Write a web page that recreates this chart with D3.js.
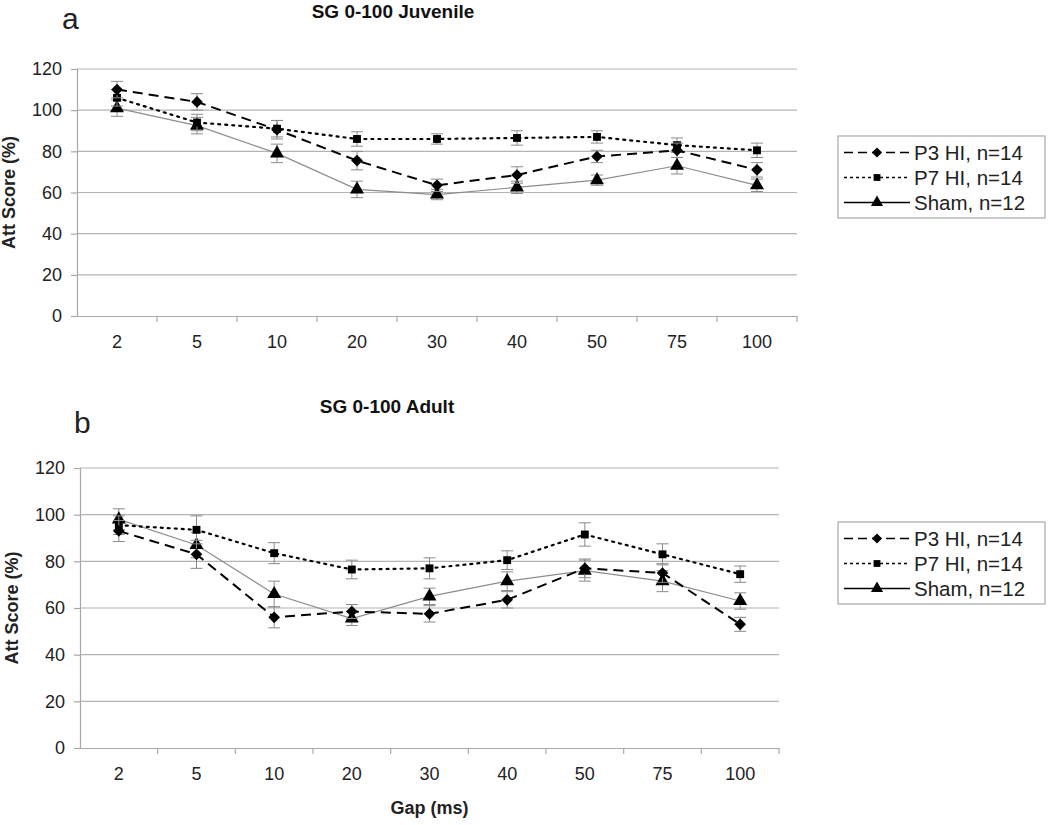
<!DOCTYPE html>
<html><head><meta charset="utf-8">
<script src="https://cdn.jsdelivr.net/npm/d3@7"></script>
<style>body{margin:0;background:#fff}svg{display:block;font-family:"Liberation Sans",Arial,sans-serif}</style>
</head><body><svg id="c" width="1050" height="825"></svg>
<script>
const categories = ["2","5","10","20","30","40","50","75","100"];
const yTicks = [0,20,40,60,80,100,120];
const seriesNames = ["P3 HI, n=14","P7 HI, n=14","Sham, n=12"];

// Panel a: Juvenile
const juvP3 = [110,104,90.5,75.5,63.5,68.5,77.5,80.5,71];
const juvP3Err = [4,4,4.5,4.5,3,4,3,3.5,3.5];
const juvP7 = [106,94,91,86,86,86.5,87,83,80.5];
const juvP7Err = [4,4,4,3.5,2.5,3.5,3,3.5,3.5];
const juvSham = [101,92.5,79,61.5,59,62.5,66,73,63.5];
const juvShamErr = [4,4,4.5,4,2.5,3,2.5,4,3];

// Panel b: Adult
const adP3 = [93,83,56,58.5,57.5,63.5,77,75,53];
const adP3Err = [4.5,6,4.5,3,3.5,3.5,4,4,3];
const adP7 = [95.5,93.5,83.5,76.5,77,80.5,91.5,83,74.5];
const adP7Err = [4,6,4.5,4,4.5,4,5,4.5,3.5];
const adSham = [98,87,66,55.5,65,71.5,76,71.5,63];
const adShamErr = [4.5,5.5,5.5,3,3.5,4,4.5,4.5,3.5];

const svg = d3.select("#c");

const styles = [
  {dash:"10,6", color:"#000", width:2, sym:d3.symbolSquare, rot:45, size:68},
  {dash:"2,5", color:"#000", width:2.2, sym:d3.symbolSquare, rot:0, size:62},
  {dash:null, color:"#8c8c8c", width:1.2, sym:d3.symbolTriangle, rot:0, size:85}
];

function panel(cfg){
  const {left,right,top,bottom,letter,letterX,letterY,title,titleX,titleY,series,legend,xTitle} = cfg;
  const g = svg.append("g");
  const x = d3.scaleBand().domain(categories).range([left,right]);
  const y = d3.scaleLinear().domain([0,120]).range([bottom,top]);

  g.append("g").selectAll("line").data(yTicks.filter(d=>d>0)).join("line")
    .attr("x1",left).attr("x2",right).attr("y1",d=>y(d)).attr("y2",d=>y(d))
    .attr("stroke","#b4b4b4").attr("stroke-width",1.2);

  const ya = g.append("g").attr("transform",`translate(${left},0)`)
    .call(d3.axisLeft(y).tickValues(yTicks).tickSize(6).tickPadding(9));
  ya.select(".domain").attr("stroke","#a8a8a8").attr("stroke-width",1.2);
  ya.selectAll(".tick line").attr("stroke","#a8a8a8").attr("stroke-width",1.2);
  ya.selectAll("text").attr("font-size",18).attr("fill","#222").attr("font-family","Liberation Sans, Arial");

  const xa = g.append("g").attr("transform",`translate(0,${bottom})`)
    .call(d3.axisBottom(x).tickSize(0).tickPadding(19));
  xa.select(".domain").attr("stroke","#a8a8a8").attr("stroke-width",1.2);
  xa.selectAll("text").attr("font-size",18).attr("fill","#222").attr("font-family","Liberation Sans, Arial");
  const bounds = categories.map(c=>x(c)).concat([x(categories[categories.length-1])+x.bandwidth()]);
  g.append("g").selectAll("line").data(bounds.slice(1)).join("line")
    .attr("x1",d=>d).attr("x2",d=>d).attr("y1",bottom).attr("y2",bottom+6)
    .attr("stroke","#a8a8a8").attr("stroke-width",1.2);

  g.append("text").attr("transform",`translate(${left-62},${(top+bottom)/2}) rotate(-90)`)
    .attr("text-anchor","middle").attr("font-weight","bold").attr("font-size",18).attr("fill","#222")
    .text("Att Score (%)");

  g.append("text").attr("x",letterX).attr("y",letterY).attr("font-size",30).attr("fill","#222").text(letter);
  g.append("text").attr("x",titleX).attr("y",titleY).attr("text-anchor","middle")
    .attr("font-weight","bold").attr("font-size",19).attr("fill","#111").text(title);

  if(xTitle){
    g.append("text").attr("x",(left+right)/2).attr("y",bottom+66).attr("text-anchor","middle")
      .attr("font-weight","bold").attr("font-size",18).attr("fill","#222").text(xTitle);
  }

  const cx = c => x(c)+x.bandwidth()/2;
  [2,1,0].forEach(si=>{
    const s = series[si], st = styles[si];
    const data = categories.map((c,i)=>({c,v:s.v[i],e:s.e[i]}));
    const eb = g.append("g").attr("stroke","#8a8a8a").attr("stroke-width",1);
    eb.selectAll("line.v").data(data).join("line").attr("class","v")
      .attr("x1",d=>cx(d.c)).attr("x2",d=>cx(d.c)).attr("y1",d=>y(d.v-d.e)).attr("y2",d=>y(d.v+d.e));
    eb.selectAll("line.t").data(data).join("line").attr("class","t")
      .attr("x1",d=>cx(d.c)-6).attr("x2",d=>cx(d.c)+6).attr("y1",d=>y(d.v+d.e)).attr("y2",d=>y(d.v+d.e));
    eb.selectAll("line.b").data(data).join("line").attr("class","b")
      .attr("x1",d=>cx(d.c)-6).attr("x2",d=>cx(d.c)+6).attr("y1",d=>y(d.v-d.e)).attr("y2",d=>y(d.v-d.e));
    const line = d3.line().x(d=>cx(d.c)).y(d=>y(d.v));
    const p = g.append("path").datum(data).attr("d",line).attr("fill","none")
      .attr("stroke",st.color).attr("stroke-width",st.width);
    if(st.dash) p.attr("stroke-dasharray",st.dash);
    if(si===1) p.attr("stroke-linecap","round");
    g.append("g").selectAll("path").data(data).join("path")
      .attr("transform",d=>`translate(${cx(d.c)},${y(d.v)}) rotate(${st.rot})`)
      .attr("d",d3.symbol().type(st.sym).size(st.size)).attr("fill","#000");
  });

  const L = legend;
  const lg = g.append("g");
  lg.append("rect").attr("x",L.x).attr("y",L.y).attr("width",L.w).attr("height",L.h)
    .attr("fill","#fff").attr("stroke","#a8a8a8").attr("stroke-width",1.2);
  seriesNames.forEach((n,i)=>{
    const st = styles[i];
    const ry = L.y + L.pad + L.row*i + L.row/2;
    const ln = lg.append("line").attr("x1",L.x+6).attr("x2",L.x+72).attr("y1",ry).attr("y2",ry)
      .attr("stroke","#000").attr("stroke-width",1.6);
    if(i===0) ln.attr("stroke-dasharray","9,5");
    if(i===1) ln.attr("stroke-dasharray","3,3");
    lg.append("path").attr("transform",`translate(${L.x+39},${ry}) rotate(${st.rot})`)
      .attr("d",d3.symbol().type(st.sym).size(st.size*0.75)).attr("fill","#000");
    lg.append("text").attr("x",L.x+76).attr("y",ry).attr("dy","0.36em")
      .attr("font-size",20.5).attr("fill","#222").text(n);
  });
}

panel({left:77,right:797,top:69,bottom:316,letter:"a",letterX:62,letterY:29,
  title:"SG 0-100 Juvenile",titleX:393,titleY:18,
  series:[{v:juvP3,e:juvP3Err},{v:juvP7,e:juvP7Err},{v:juvSham,e:juvShamErr}],
  legend:{x:838,y:136,w:207,h:82,pad:4,row:25}});

panel({left:80,right:779,top:468,bottom:748,letter:"b",letterX:74,letterY:433,
  title:"SG 0-100 Adult",titleX:387,titleY:413,
  series:[{v:adP3,e:adP3Err},{v:adP7,e:adP7Err},{v:adSham,e:adShamErr}],
  legend:{x:838,y:522,w:207,h:82,pad:4,row:25},xTitle:"Gap (ms)"});
</script></body></html>
